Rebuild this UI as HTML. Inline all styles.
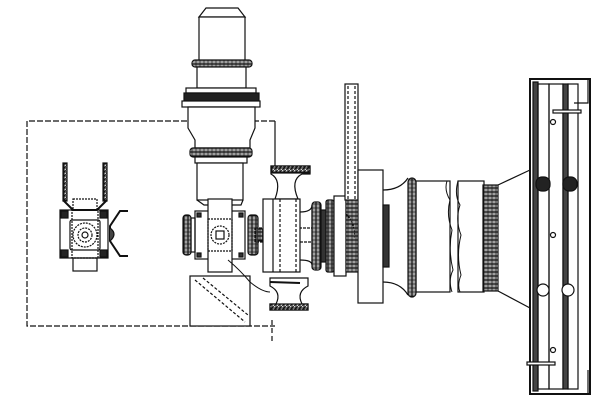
<!DOCTYPE html>
<html><head><style>
html,body{margin:0;padding:0;background:#fff;}
svg{display:block;}
</style></head><body>
<svg width="600" height="414" viewBox="0 0 600 414" xmlns="http://www.w3.org/2000/svg" fill="none" stroke="#111" stroke-width="1.2">
<defs>
<pattern id="kn" width="4" height="4" patternUnits="userSpaceOnUse"><rect width="4" height="4" fill="#fff"/><line x1="2" y1="0" x2="2" y2="4" stroke="#111" stroke-width="0.8"/></pattern>
<pattern id="knh" width="4" height="4" patternUnits="userSpaceOnUse"><rect width="4" height="4" fill="#fff"/><line x1="0" y1="2" x2="4" y2="2" stroke="#111" stroke-width="0.8"/></pattern>
<pattern id="hat" width="4" height="4" patternUnits="userSpaceOnUse"><rect width="4" height="4" fill="#fff"/><line x1="0" y1="4" x2="4" y2="0" stroke="#111" stroke-width="0.8"/></pattern>
</defs>
<path d="M275 121 H27 V326 H275" stroke-dasharray="6,2"/>
<line x1="275" y1="121" x2="275" y2="168"/>
<line x1="272" y1="320" x2="272" y2="342" stroke-dasharray="5,3"/>
<rect x="63" y="163" width="4" height="38" fill="url(#hat)"/>
<rect x="103" y="163" width="4" height="38" fill="url(#hat)"/>
<path d="M63 200 L73 210 H97 L107 200" stroke-width="2"/>
<rect x="73" y="199" width="24" height="11" stroke-dasharray="2,1"/>
<rect x="60" y="210" width="48" height="48"/>
<rect x="61" y="211" width="7" height="7" fill="#222"/><rect x="100" y="211" width="7" height="7" fill="#222"/>
<rect x="61" y="250" width="7" height="7" fill="#222"/><rect x="100" y="250" width="7" height="7" fill="#222"/>
<rect x="70" y="220" width="30" height="30" rx="2"/>
<rect x="72" y="210" width="26" height="48" stroke-dasharray="2,1"/>
<circle cx="85" cy="235" r="12" stroke-dasharray="2,1"/>
<circle cx="85" cy="235" r="7" stroke-dasharray="2,1"/>
<circle cx="85" cy="235" r="3"/>
<rect x="73" y="258" width="24" height="13"/>
<path d="M128 211 H120 L110 226 V241 L120 256 H128" stroke-width="2"/>
<path d="M110 228 Q118 234 110 241" fill="#444"/>
<path d="M199 17 L206 8 H238 L245 17 Z" fill="#fff"/>
<rect x="199" y="17" width="46" height="45" fill="#fff"/>
<rect x="192" y="60" width="60" height="7" rx="3" fill="url(#kn)"/>
<rect x="197" y="67" width="49" height="21" fill="#fff"/>
<rect x="186" y="88" width="70" height="5" fill="#fff"/>
<rect x="184" y="93" width="75" height="8" fill="#222"/>
<rect x="182" y="101" width="78" height="6" fill="#fff"/>
<path d="M188 107 H255 V128 L250 140 V148 H195 V140 L188 128 Z" fill="#fff"/>
<rect x="190" y="148" width="62" height="9" rx="3" fill="url(#kn)"/>
<rect x="195" y="157" width="52" height="6" fill="#fff"/>
<rect x="197" y="163" width="46" height="37" fill="#fff"/>
<path d="M197 200 L204 205 H241 L243 200"/>
<rect x="195" y="211" width="50" height="48" fill="#fff"/>
<rect x="208" y="199" width="24" height="73" fill="#fff"/>
<rect x="208" y="219" width="24" height="32" stroke-dasharray="2,1"/>
<circle cx="220" cy="235" r="9" stroke-dasharray="2,1"/>
<rect x="216" y="231" width="8" height="8"/>
<rect x="197" y="213" width="4" height="4" fill="#333"/><rect x="239" y="213" width="4" height="4" fill="#333"/>
<rect x="197" y="253" width="4" height="4" fill="#333"/><rect x="239" y="253" width="4" height="4" fill="#333"/>
<rect x="183" y="215" width="8" height="40" rx="3" fill="url(#knh)"/>
<rect x="191" y="218" width="4" height="34"/>
<rect x="248" y="215" width="10" height="40" rx="3" fill="url(#knh)"/>
<rect x="255" y="228" width="95" height="14" stroke-dasharray="3,1"/>
<rect x="258" y="229" width="20" height="12" fill="url(#kn)"/>
<rect x="190" y="276" width="60" height="50" fill="#fff"/>
<path d="M195 280 L245 322 M203 278 L248 315" stroke-dasharray="3,2"/>
<path d="M228 260 Q240 270 250 282 Q262 292 270 292" stroke-width="1"/>
<path d="M271 166 H310 V174 H302 Q290 180 298 199 H275 Q282 180 271 174 Z" fill="#fff"/>
<rect x="271" y="166" width="39" height="7" fill="url(#hat)"/>
<rect x="263" y="199" width="37" height="73" fill="#fff"/>
<line x1="273" y1="199" x2="273" y2="272"/>
<path d="M280 199 V272 M296 199 V272" stroke-dasharray="3,2"/>
<path d="M270 278 H308 V286 Q296 292 302 304 H308 V310 H270 V304 H276 Q282 292 270 286 Z" fill="#fff"/>
<rect x="270" y="304" width="38" height="6" fill="url(#hat)"/>
<line x1="270" y1="282" x2="300" y2="283" stroke-width="2"/>
<path d="M300 212 Q312 212 312 205 V265 Q312 260 300 260" />
<rect x="312" y="202" width="9" height="68" rx="3" fill="url(#knh)"/>
<rect x="321" y="210" width="5" height="52" fill="#333"/>
<rect x="326" y="200" width="8" height="72" rx="2" fill="url(#knh)"/>
<rect x="334" y="196" width="12" height="80" fill="#fff"/>
<rect x="346" y="200" width="12" height="72" fill="url(#kn)"/>
<path d="M346 214 Q356 224 354 238" stroke-dasharray="2,1"/>
<rect x="345" y="84" width="13" height="116" fill="#fff"/>
<path d="M348 86 V205 M355 86 V200" stroke-dasharray="3,2"/>
<rect x="358" y="170" width="25" height="133" fill="#fff"/>
<path d="M383 190 Q400 190 408 178 M383 282 Q400 282 408 295"/>
<rect x="383" y="205" width="6" height="62" fill="#333"/>
<rect x="416" y="181" width="34" height="111" fill="#fff"/>
<rect x="458" y="181" width="26" height="111" fill="#fff"/>
<rect x="408" y="178" width="8" height="119" rx="4" fill="url(#knh)"/>
<path d="M447 181 Q444 190 450 200 Q446 215 452 230 Q448 250 453 270 Q448 280 452 292" stroke-width="1"/>
<path d="M458 181 Q454 195 460 205 Q455 220 461 235 Q456 255 461 275 Q457 285 460 292" stroke-width="1"/>
<rect x="483" y="185" width="15" height="106" fill="url(#kn)"/>
<path d="M498 185 L530 170 M498 291 L530 308"/>
<rect x="530" y="79" width="60" height="315" stroke-width="2" fill="#fff"/>
<path d="M588 79 V103 H574 M588 370 V394 H574"/>
<rect x="533" y="82" width="5" height="309" fill="#444"/>
<rect x="538" y="84" width="11" height="305"/>
<rect x="549" y="84" width="14" height="305"/>
<rect x="563" y="84" width="5" height="305" fill="#444"/>
<rect x="568" y="84" width="10" height="305"/>
<rect x="536" y="177" width="14" height="14" rx="6" fill="#222"/>
<rect x="563" y="177" width="14" height="14" rx="6" fill="#222"/>
<circle cx="543" cy="290" r="6" fill="#fff"/>
<circle cx="568" cy="290" r="6" fill="#fff"/>
<rect x="553" y="110" width="28" height="3" fill="#fff"/>
<rect x="527" y="362" width="28" height="3" fill="#fff"/>
<circle cx="553" cy="122" r="2.5"/><circle cx="553" cy="235" r="2.5"/><circle cx="553" cy="350" r="2.5"/>
</svg>
</body></html>
